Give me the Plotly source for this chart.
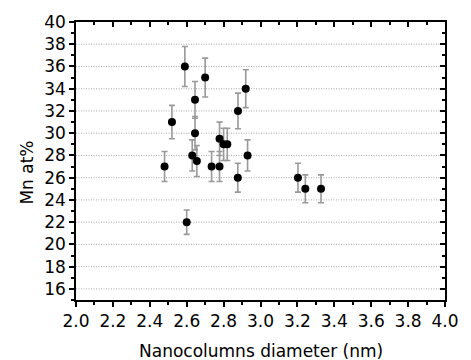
import plotly.graph_objects as go

# Nanocolumn diameter (nm) versus Mn content (at%) with 5 % error bars
diameter_nm = [2.48, 2.52, 2.59, 2.60, 2.63, 2.645, 2.645, 2.655, 2.70, 2.735,
               2.778, 2.778, 2.80, 2.82, 2.877, 2.878, 2.92, 2.93, 3.203, 3.243, 3.328]
mn_at_pct = [27.0, 31.0, 36.0, 22.0, 28.0, 33.0, 30.0, 27.5, 35.0, 27.0,
             29.5, 27.0, 29.0, 29.0, 26.0, 32.0, 34.0, 28.0, 26.0, 25.0, 25.0]
mn_err = [1.35, 1.5, 1.8, 1.1, 1.4, 1.65, 1.5, 1.4, 1.75, 1.35,
          1.5, 1.35, 1.45, 1.45, 1.3, 1.6, 1.7, 1.4, 1.3, 1.25, 1.25]

x_ticks = [2.0, 2.2, 2.4, 2.6, 2.8, 3.0, 3.2, 3.4, 3.6, 3.8, 4.0]
y_ticks = list(range(16, 41, 2))
y_grid = [v for v in y_ticks if v < 40]

font = "DejaVu Sans, Arial, sans-serif"
W, H = 471, 360
L, R, T, B = 76, 18, 22, 60

fig = go.Figure()
fig.add_trace(go.Scatter(
    x=diameter_nm, y=mn_at_pct, mode="markers",
    marker=dict(color="black", size=8),
    error_y=dict(type="data", array=mn_err, visible=True,
                 color="#999999", thickness=1.6, width=3),
    showlegend=False,
))
# invisible trace to carry the mirrored top/right frame axes
fig.add_trace(go.Scatter(x=[2.0], y=[15], xaxis="x2", yaxis="y2",
                         mode="markers", marker=dict(opacity=0),
                         showlegend=False, hoverinfo="skip"))

common = dict(showline=True, linecolor="black", linewidth=1.5,
              tickcolor="black", tickwidth=1.5, ticklen=5, zeroline=False)

# fine dotted horizontal gridlines at the labelled y positions
for g in y_grid:
    fig.add_shape(type="line", xref="x", yref="y", x0=2.0, x1=4.0, y0=g, y1=g,
                  line=dict(color="#ababab", width=1, dash="1px,1.5px"),
                  layer="below")

fig.update_layout(
    width=W, height=H,
    margin=dict(l=L, r=R, t=T, b=B),
    plot_bgcolor="white", paper_bgcolor="white",
    font=dict(family=font, size=17, color="black"),
    xaxis=dict(range=[2.0, 4.0], tickvals=x_ticks,
               ticktext=[f"{v:.1f}" for v in x_ticks],
               ticks="outside", showgrid=False,
               minor=dict(dtick=0.1, tick0=2.0, ticks="outside", ticklen=3,
                          tickcolor="black", tickwidth=1.5, showgrid=False),
               tickfont=dict(size=17), **common),
    yaxis=dict(range=[15, 40], tickvals=y_ticks,
               ticks="outside", showgrid=False,
               minor=dict(dtick=1, tick0=15, ticks="outside", ticklen=3,
                          tickcolor="black", tickwidth=1.5, showgrid=False),
               tickfont=dict(size=17), **common),
    xaxis2=dict(range=[2.0, 4.0], overlaying="x", side="top", anchor="y2",
                tickvals=x_ticks, showticklabels=False, ticks="inside",
                showgrid=False,
                minor=dict(dtick=0.1, tick0=2.0, ticks="inside", ticklen=3,
                           tickcolor="black", tickwidth=1.5, showgrid=False),
                **common),
    yaxis2=dict(range=[15, 40], overlaying="y", side="right", anchor="x2",
                tickvals=y_ticks, showticklabels=False, ticks="inside",
                showgrid=False,
                minor=dict(dtick=1, tick0=15, ticks="inside", ticklen=3,
                           tickcolor="black", tickwidth=1.5, showgrid=False),
                **common),
)

# axis titles placed in paper pixels
fig.add_annotation(text="Nanocolumns diameter (nm)", xref="paper", yref="paper",
                   x=0.5, y=-(351 - (H - B)) / (H - T - B),
                   showarrow=False, font=dict(size=17), yanchor="middle")
fig.add_annotation(text="Mn at%", xref="paper", yref="paper",
                   x=-(L - 25.5) / (W - L - R), y=1 - (173 - T) / (H - T - B),
                   showarrow=False, textangle=-90, font=dict(size=17),
                   xanchor="center", yanchor="middle")

fig.write_html("out.html")
